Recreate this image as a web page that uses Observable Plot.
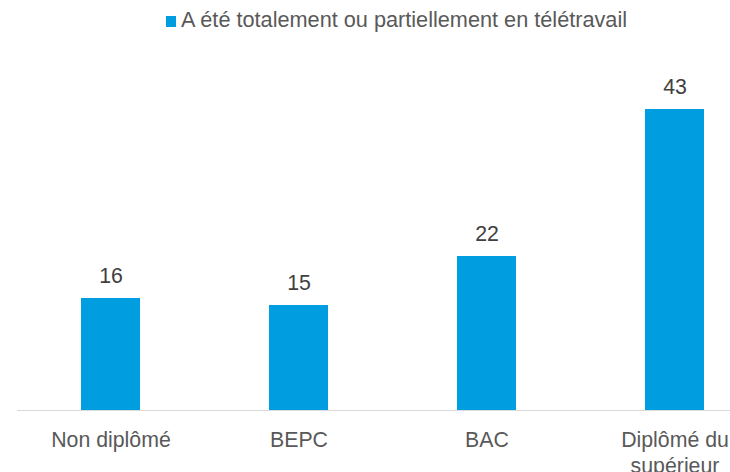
<!DOCTYPE html>
<html><head><meta charset="utf-8">
<script src="https://cdn.jsdelivr.net/npm/d3@7"></script>
<script src="https://cdn.jsdelivr.net/npm/@observablehq/plot@0.6"></script>
<style>
html,body{margin:0;padding:0;background:#fff;overflow:hidden;}
body{width:730px;height:472px;font-family:"Liberation Sans",Arial,sans-serif;}
#legend{height:40px;position:relative;}
#legend .sw{position:absolute;left:166px;top:16px;width:10px;height:11px;}
#legend .lb{position:absolute;left:181px;top:8px;font-size:21.7px;color:#595959;line-height:24px;white-space:nowrap;}
</style></head>
<body>
<div id="legend"><div class="sw"></div><div class="lb"></div></div>
<div id="chart"></div>
<script>
const categories = ["Non diplômé","BEPC","BAC","Diplômé du supérieur"];
const tickLabels = ["Non diplômé","BEPC","BAC","Diplômé du\nsupérieur"];
const values = [16,15,22,43];
const seriesName = "A été totalement ou partiellement en télétravail";
const barColor = "#009EE0";

document.querySelector("#legend .sw").style.background = barColor;
document.querySelector("#legend .lb").textContent = seriesName;

const data = categories.map((c,i)=>({cat:c, value:values[i]}));
const chart = Plot.plot({
  width:730, height:432,
  marginLeft:17, marginRight:0, marginTop:69, marginBottom:62,
  style:{fontFamily:"'Liberation Sans', Arial, sans-serif", background:"#fff", overflow:"visible"},
  x:{type:"band", domain:categories, range:[17,769], paddingInner:0.686, paddingOuter:0.343},
  y:{domain:[0,43]},
  marks:[
    Plot.barY(data,{x:"cat", y:"value", fill:barColor}),
    Plot.ruleY([0],{stroke:"#d9d9d9", strokeWidth:1}),
    Plot.text(data,{x:"cat", y:"value", text:d=>String(d.value), dy:-22, fontSize:21.3, fill:"#404040"}),
    Plot.axisX({tickSize:0, tickPadding:18.5, fontSize:21.3, color:"#595959", lineHeight:1.2,
      tickFormat:d=>tickLabels[categories.indexOf(d)], label:null}),
    Plot.axisY({ticks:[], label:null, tickSize:0})
  ]
});
document.getElementById("chart").appendChild(chart);
</script>
</body></html>
